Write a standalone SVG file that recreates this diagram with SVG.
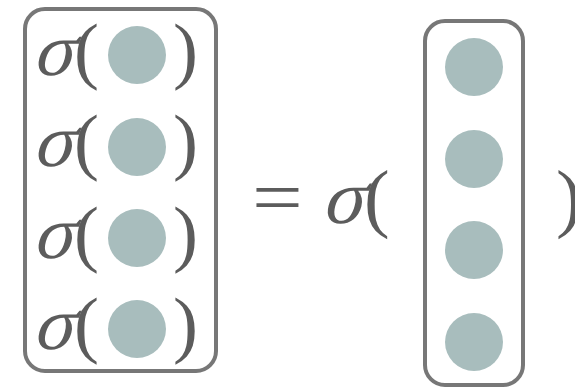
<svg xmlns="http://www.w3.org/2000/svg" width="575" height="387" viewBox="0 0 575 387">
<style>
.box{fill:#fff;stroke:#777;stroke-width:4}
.dot{fill:#a8bdbd}
.t{font-family:"Liberation Serif","Times New Roman",serif;font-size:75px;fill:#5c5c5c}
.e{font-family:"Liberation Serif","Times New Roman",serif;font-size:77px;fill:#5c5c5c}
</style>
<rect width="575" height="387" fill="#fff"/>
<g id="left-vector">
<rect class="box" x="25" y="9" width="191" height="362" rx="20"/>
<g id="l1"><text class="t" transform="translate(32,75) skewX(-15)">σ</text><text class="t" x="74" y="75">(</text><circle class="dot" cx="137" cy="55" r="29"/><text class="t" x="173" y="75">)</text></g>
<g id="l2"><text class="t" transform="translate(32,166) skewX(-15)">σ</text><text class="t" x="74" y="166">(</text><circle class="dot" cx="137" cy="147" r="29"/><text class="t" x="173" y="166">)</text></g>
<g id="l3"><text class="t" transform="translate(32,258) skewX(-15)">σ</text><text class="t" x="74" y="258">(</text><circle class="dot" cx="137" cy="238" r="29"/><text class="t" x="173" y="258">)</text></g>
<g id="l4"><text class="t" transform="translate(32,349) skewX(-15)">σ</text><text class="t" x="74" y="349">(</text><circle class="dot" cx="137" cy="329" r="29"/><text class="t" x="173" y="349">)</text></g>
</g>
<g id="equation">
<text class="e" transform="translate(252,223) scale(1.17,1)">=</text>
<text class="e" transform="translate(321,223) skewX(-15)">σ</text>
<text class="e" x="364" y="223">(</text>
<text class="e" x="556" y="223">)</text>
</g>
<g id="right-vector">
<rect class="box" x="425" y="21" width="98" height="364" rx="20"/>
<circle class="dot" cx="474" cy="67" r="29"/>
<circle class="dot" cx="474" cy="159" r="29"/>
<circle class="dot" cx="474" cy="250" r="29"/>
<circle class="dot" cx="474" cy="342" r="29"/>
</g>
</svg>
